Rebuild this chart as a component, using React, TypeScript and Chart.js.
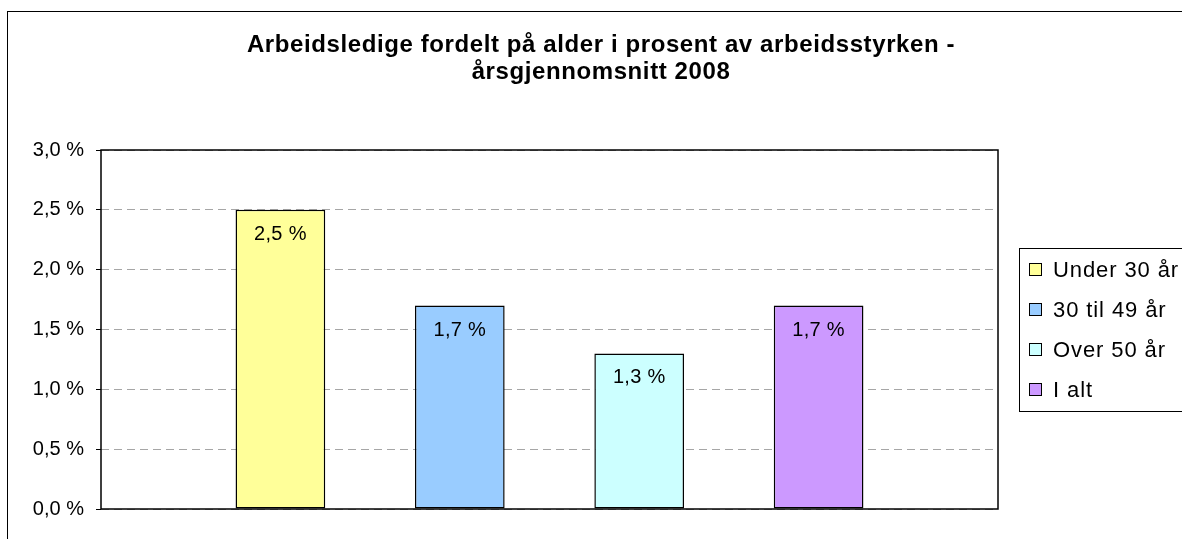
import React, { useEffect, useRef } from "react";
import { Chart, registerables } from "chart.js";

Chart.register(...registerables);

const titleLines = [
  "Arbeidsledige fordelt på alder i prosent av arbeidsstyrken -",
  "årsgjennomsnitt 2008",
];
const categories = [""];
const seriesNames = ["Under 30 år", "30 til 49 år", "Over 50 år", "I alt"];
const seriesValues = [2.5, 1.7, 1.3, 1.7];
const seriesColors = ["#FFFF99", "#99CCFF", "#CCFFFF", "#CC99FF"];
const yTicks = [0, 0.5, 1.0, 1.5, 2.0, 2.5, 3.0];

const FONT = "'Liberation Sans', Arial, Helvetica, sans-serif";
const fmt = (v: number) => v.toFixed(1).replace(".", ",") + " %";

const W = 1182;
const H = 539;

const frame = {
  id: "frame",
  beforeDraw(chart: any) {
    const ctx = chart.ctx;
    ctx.save();
    ctx.fillStyle = "#fff";
    ctx.fillRect(0, 0, chart.width, chart.height);
    ctx.strokeStyle = "#000";
    ctx.lineWidth = 1;
    ctx.strokeRect(7.5, 11.5, chart.width + 50, chart.height + 50);
    // title
    ctx.fillStyle = "#000";
    ctx.font = `bold 24px ${FONT}`;
    (ctx as any).letterSpacing = "0.6px";
    ctx.textAlign = "center";
    ctx.textBaseline = "alphabetic";
    titleLines.forEach((t, i) => ctx.fillText(t, 601, 52 + i * 27));
    ctx.restore();
  },
  afterDatasetsDraw(chart: any) {
    const ctx = chart.ctx;
    ctx.save();
    ctx.fillStyle = "#000";
    ctx.font = `20px ${FONT}`;
    (ctx as any).letterSpacing = "0.3px";
    ctx.textAlign = "center";
    ctx.textBaseline = "alphabetic";
    chart.data.datasets.forEach((ds: any, i: number) => {
      const meta = chart.getDatasetMeta(i);
      const bar = meta.data[0];
      if (!bar) return;
      ctx.fillText(fmt(ds.data[0]), bar.x, bar.y + 30);
    });
    ctx.restore();
  },
  afterDraw(chart: any) {
    const ctx = chart.ctx;
    const a = chart.chartArea;
    ctx.save();
    ctx.strokeStyle = "#000";
    ctx.lineWidth = 1.5;
    ctx.strokeRect(a.left, a.top, a.right - a.left, a.bottom - a.top);
    // legend
    const lx = 1019.5;
    const ly = 248.5;
    ctx.lineWidth = 1;
    ctx.strokeRect(lx, ly, 220, 163);
    ctx.font = `22px ${FONT}`;
    (ctx as any).letterSpacing = "0.9px";
    ctx.textAlign = "left";
    ctx.textBaseline = "alphabetic";
    chart.data.datasets.forEach((ds: any, i: number) => {
      const cy = 269.5 + i * 40;
      ctx.fillStyle = ds.backgroundColor;
      ctx.fillRect(1029.5, cy - 6, 12, 12);
      ctx.strokeStyle = "#000";
      ctx.strokeRect(1029.5, cy - 6, 12, 12);
      ctx.fillStyle = "#000";
      ctx.fillText(ds.label, 1053, cy + 7.5);
    });
    ctx.restore();
  },
};

export default function App() {
  const ref = useRef<HTMLCanvasElement>(null);
  useEffect(() => {
    if (!ref.current) return;
    const chart = new Chart(ref.current, {
      type: "bar",
      data: {
        labels: categories,
        datasets: seriesNames.map((n, i) => ({
          label: n,
          data: [seriesValues[i]],
          backgroundColor: seriesColors[i],
          borderColor: "#000",
          borderWidth: 1.5,
          borderSkipped: false,
          categoryPercentage: 0.8,
          barPercentage: 0.5,
        })),
      },
      options: {
        responsive: false,
        animation: false,
        devicePixelRatio: 1,
        layout: { padding: { top: 150, right: 184, bottom: 30, left: 0 } },
        plugins: {
          legend: { display: false },
          title: { display: false },
          tooltip: { enabled: false },
        },
        scales: {
          x: { display: false },
          y: {
            min: 0,
            max: 3,
            afterFit(s: any) {
              s.width = 101;
            },
            afterBuildTicks(s: any) {
              s.ticks = yTicks.map((v) => ({ value: v }));
            },
            ticks: {
              stepSize: 0.5,
              callback: (v: any) => fmt(Number(v)),
              color: "#000",
              font: { family: FONT, size: 20 },
              padding: 12,
            },
            grid: {
              color: "#a6a6a6",
              lineWidth: 1,
              tickColor: "#000",
              tickLength: 5,
              tickWidth: 1,
              tickBorderDash: [],
            },
            border: { display: false, dash: [8, 5] },
          },
        },
      },
      plugins: [frame],
    } as any);
    return () => chart.destroy();
  }, []);
  return (
    <div style={{ position: "absolute", left: 0, top: 0, width: W, height: H, overflow: "hidden" }}>
      <canvas ref={ref} width={W} height={H} style={{ display: "block" }} />
    </div>
  );
}
